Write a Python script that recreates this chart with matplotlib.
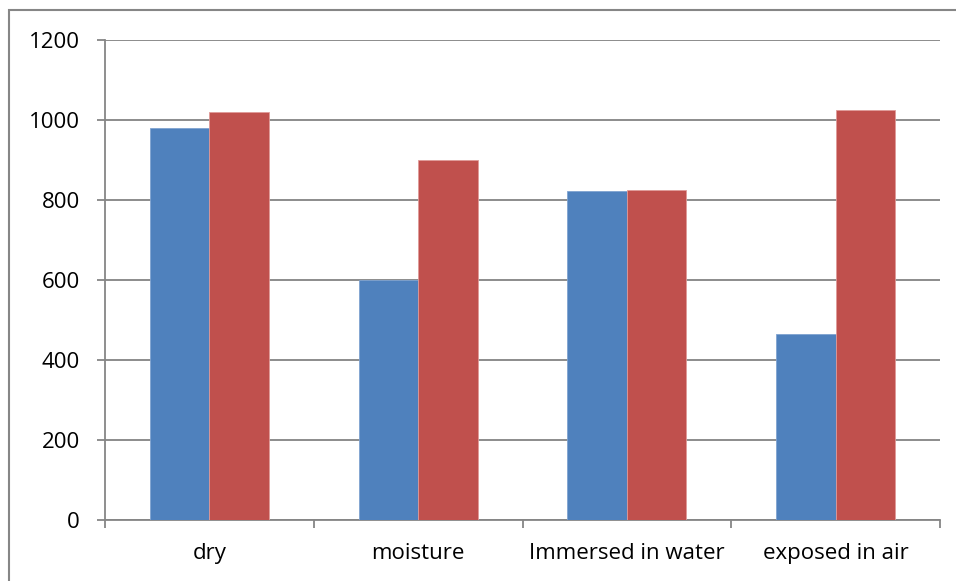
import matplotlib.pyplot as plt
import matplotlib.patches as mpatches
import numpy as np

categories = ["dry", "moisture", "Immersed in water", "exposed in air"]
series_a = [981, 600, 823, 465]
series_b = [1020, 900, 825, 1025]
y_ticks = [0, 200, 400, 600, 800, 1000, 1200]

plt.rcParams["font.family"] = ["Open Sans", "DejaVu Sans"]

W, H = 956, 581
fig = plt.figure(figsize=(W / 100, H / 100), dpi=100)
ax = fig.add_axes([105 / W, (H - 519.5) / H, (940 - 105) / W, (519.5 - 40) / H])

# outer chart border
fig.patches.append(mpatches.Rectangle((9 / W, -0.1), 1.1, (H - 10) / H + 0.1,
                                      transform=fig.transFigure, fill=False,
                                      edgecolor="#868686", linewidth=1.5))

x = np.arange(len(categories))
w = 0.285
ax.bar(x - w / 2, series_a, w, color="#4F81BD", edgecolor="#7FA3D1", linewidth=0.6, zorder=3)
ax.bar(x + w / 2, series_b, w, color="#C0504D", edgecolor="#E09A98", linewidth=0.6, zorder=3)

ax.set_xlim(-0.5, len(categories) - 0.5)
ax.set_ylim(0, 1200)
ax.set_yticks(y_ticks)
ax.yaxis.grid(True, color="#8C8C8C", linewidth=1.4, zorder=0)

ax.set_xticks(x)
ax.set_xticklabels(categories, fontsize=16)
ax.set_xticks(np.arange(len(categories) + 1) - 0.5, minor=True)
ax.tick_params(axis="x", which="major", length=0, pad=17)
ax.tick_params(axis="x", which="minor", length=5.5, width=1.3, color="#868686")
ax.tick_params(axis="y", length=6, width=1.3, color="#868686", labelsize=16, pad=12)

for side in ["top", "right"]:
    ax.spines[side].set_visible(False)
for side in ["left", "bottom"]:
    ax.spines[side].set_color("#868686")
    ax.spines[side].set_linewidth(1.3)

fig.savefig("out.png", dpi=100)
